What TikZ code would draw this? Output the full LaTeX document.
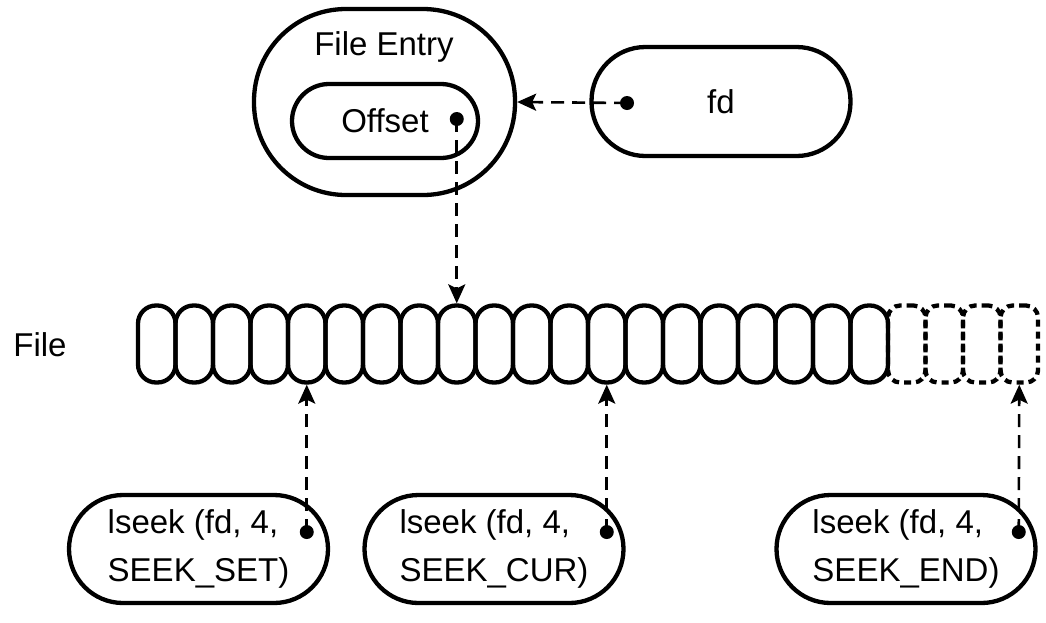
\documentclass[tikz,border=0pt]{standalone}
\usepackage{fontspec}
\setmainfont{Liberation Sans}
\usetikzlibrary{arrows.meta}

\begin{document}
\begin{tikzpicture}[x=1pt,y=-1pt,
        every node/.style={font=\fontsize{33}{45}\selectfont},
        box/.style={draw,line width=4.3pt,inner sep=0pt},
        cell/.style={box,rounded corners=18pt,minimum width=37.5pt,minimum height=77pt},
        ghost/.style={cell,dash pattern=on 7pt off 5pt,rounded corners=12pt},
        seekbox/.style={box,rounded corners=54pt,minimum width=259pt,minimum height=108pt,align=left,font=\fontsize{33}{48}\selectfont},
        pin/.style={circle,fill,inner sep=0pt,minimum size=14pt},
        link/.style={line width=2.6pt,dash pattern=on 13pt off 8pt,-{Stealth[length=19pt,width=17pt,inset=4pt]}}]
        \useasboundingbox (0,0) rectangle (1046,622);

        \node[box,rounded corners=92pt,minimum width=261pt,minimum height=186pt] (entry) at (384.5,102) {};
        \node (entrytitle) at (384,47) {File Entry};
        \node[box,rounded corners=37pt,minimum width=186pt,minimum height=74pt] (offset) at (385,121) {Offset};
        \node[box,rounded corners=54pt,minimum width=259pt,minimum height=109pt] (fd) at (721,101.5) {fd};

        \node (filelbl) at (40,345) {File};
        \foreach \i in {21,...,24}
            \node[ghost] (c\i) at (138+\i*37.5-18.75,344) {};
        \foreach \i in {1,...,20}
            \node[cell] (c\i) at (138+\i*37.5-18.75,344) {};

        \node[seekbox] (seekset) at (198.5,549) {lseek (fd, 4,\\SEEK\_SET)};
        \node[seekbox] (seekcur) at (494,549) {lseek (fd, 4,\\SEEK\_CUR)};
        \node[seekbox] (seekend) at (906,549) {lseek (fd, 4,\\SEEK\_END)};

        \node[pin] (pinfd) at (627,103) {};
        \node[pin] (pinoff) at (456.75,119) {};
        \node[pin] (pinset) at (306.75,532) {};
        \node[pin] (pincur) at (606.75,532) {};
        \node[pin] (pinend) at (1018.75,532) {};

        \draw[link] (pinfd.center) -- (entry.east);
        \draw[link] (pinoff.center) -- (c9.north);
        \draw[link] (pinset.center) -- (c5.south);
        \draw[link] (pincur.center) -- (c13.south);
        \draw[link] (pinend.center) -- (c24.south);
    \end{tikzpicture}
\end{document}
